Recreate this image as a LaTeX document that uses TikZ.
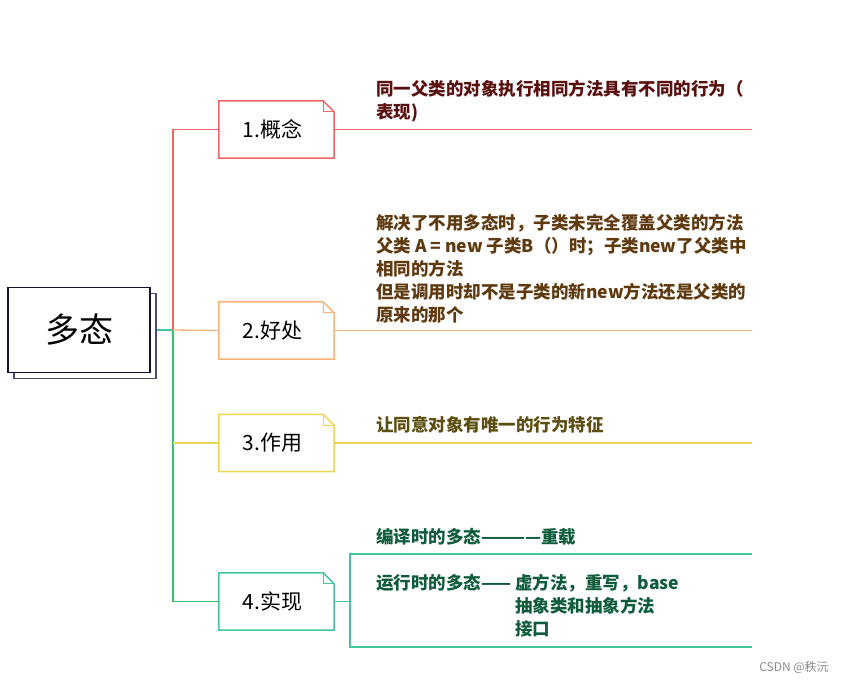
\documentclass[tikz,border=0pt]{standalone}
\usepackage{fontspec}
\setmainfont{Noto Sans CJK SC}
\usetikzlibrary{shadows}
\definecolor{cred}{RGB}{240,100,100}
\definecolor{corange}{RGB}{248,180,120}
\definecolor{cyellow}{RGB}{240,212,80}
\definecolor{cgreen}{RGB}{64,200,150}
\definecolor{cgreenv}{RGB}{60,192,110}
\definecolor{tred}{RGB}{90,15,15}
\definecolor{tbrown}{RGB}{95,58,15}
\definecolor{tolive}{RGB}{92,78,15}
\definecolor{tgreen}{RGB}{15,92,60}
\definecolor{cnavy}{RGB}{20,20,55}
\definecolor{cnavyb}{RGB}{75,75,105}
\newcommand\foldbox[2]{%
  \draw[#2, line width=1.5pt] (#1.north west) -- ([xshift=-11pt]#1.north east) -- ([yshift=-11pt]#1.north east) -- (#1.south east) -- (#1.south west) -- cycle;
  \draw[#2, line width=1pt] ([xshift=-11pt]#1.north east) -- ([xshift=-11pt,yshift=-11pt]#1.north east) -- ([yshift=-11pt]#1.north east);}
\begin{document}
\begin{tikzpicture}[x=1pt,y=-1pt,
  conn/.style={line width=1.3pt},
  topic/.style={minimum width=115pt, minimum height=57pt, inner sep=0pt, font=\fontsize{21}{25}\selectfont},
  lbl/.style={anchor=north west, inner sep=0pt, align=left, font=\fontsize{17.5}{23}\selectfont\bfseries},
]
\useasboundingbox (0,0) rectangle (843,683);
% root
\node[draw=cnavy, line width=1.4pt, fill=white, minimum width=142pt, minimum height=85pt, inner sep=0pt,
  font=\fontsize{34}{40}\selectfont,
  copy shadow={shadow xshift=6pt, shadow yshift=-6pt, draw=cnavyb, fill=white, line width=1.4pt}] (root) at (79,330) {多态};
\coordinate (j) at (173,330);
% topics
\node[topic] (n1) at (276.5,129.5) {\hspace*{-8pt}1.概念};
\node[topic] (n2) at (276.5,330.5) {\hspace*{-8pt}2.好处};
\node[topic] (n3) at (276.5,443) {\hspace*{-8pt}3.作用};
\node[topic] (n4) at (276.5,601.5) {\hspace*{-8pt}4.实现};
\foldbox{n1}{cred}
\foldbox{n2}{corange}
\foldbox{n3}{cyellow}
\foldbox{n4}{cgreen}
% connectors from root
\draw[conn, cgreen] ([xshift=6pt]root.east) -- (j);
\draw[conn, cred] (j) |- (n1.west);
\draw[conn, cgreenv] (j) |- (n4.west);
\draw[conn, corange] (j) -- (n2.west);
\draw[conn, cyellow] (j |- n3.west) -- (n3.west);
% right lines
\coordinate (e1) at (752,129.5);
\coordinate (e2) at (752,330.5);
\coordinate (e3) at (752,443);
\draw[conn, cred] (n1.east) -- (e1);
\draw[conn, corange] (n2.east) -- (e2);
\draw[conn, cyellow] (n3.east) -- (e3);
% bracket
\coordinate (b1) at (752,554);
\coordinate (b2) at (350,554);
\coordinate (b3) at (350,647);
\coordinate (b4) at (752,647);
\draw[conn, cgreen] (n4.east) -- (b2 |- n4.east);
\draw[conn, cgreen] (b1) -- (b2) -- (b3) -- (b4);
% labels
\node[lbl, text=tred] (t1) at (376,80) {同一父类的对象执行相同方法具有不同的行为（\\表现)};
\node[lbl, text=tbrown] (t2) at (376,214.5) {解决了不用多态时，子类未完全覆盖父类的方法\\父类 A = new 子类B（）时；子类new了父类中\\相同的方法\\但是调用时却不是子类的新new方法还是父类的\\原来的那个};
\node[lbl, text=tolive] (t3) at (376,416.5) {让同意对象有唯一的行为特征};
\node[lbl, text=tgreen] (t4) at (376,528.5) {编译时的多态————重载};
\node[lbl, text=tgreen] (t5) at (376,574.5) {运行时的多态——};
\node[lbl, text=tgreen] (t6) at (515,574.5) {虚方法，重写，base\\抽象类和抽象方法\\接口};
% watermark
\node[inner sep=0pt, text=black!45, font=\fontsize{12}{14}\selectfont] (wm) at (794,668) {CSDN @秩沅};
\end{tikzpicture}
\end{document}
